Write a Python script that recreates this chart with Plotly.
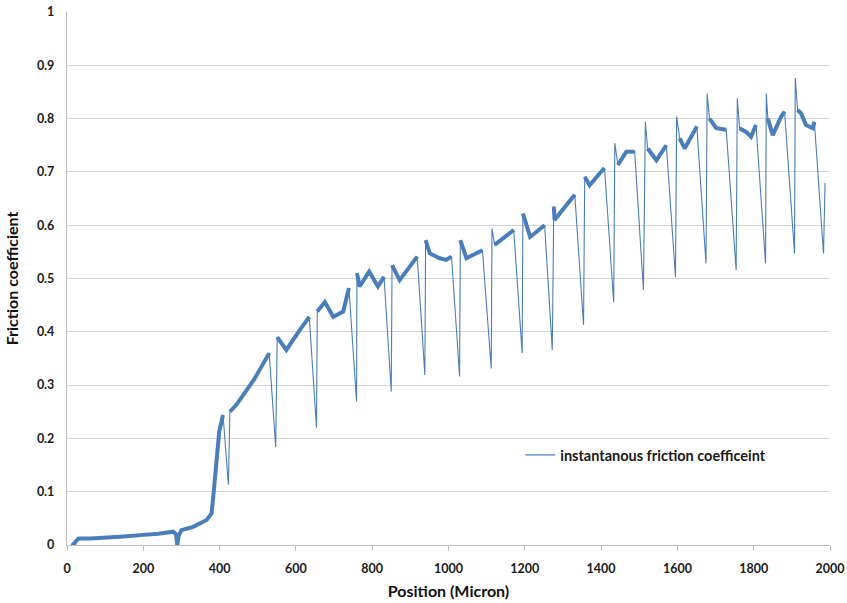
import plotly.graph_objects as go

# Sliding test: position along the track (micron) and instantaneous friction coefficient
position_um = [
    12, 18, 22, 30, 60, 90, 113, 150, 200, 240, 278, 286, 289, 293, 300, 331, 366, 379,
    385, 392, 399, 409, 423, 427, 444, 490, 530, 547, 551, 575, 610, 635, 654, 656,
    676, 698, 724, 739, 759, 760, 767, 792, 815, 831, 850, 852, 872, 918, 938, 940,
    951, 977, 994, 1008, 1029, 1031, 1047, 1089, 1112, 1114, 1121, 1171, 1193, 1195,
    1214, 1252, 1272, 1276, 1278, 1331, 1354, 1357, 1370, 1396, 1409, 1433, 1436,
    1444, 1466, 1488, 1511, 1516, 1522, 1545, 1571, 1595, 1598, 1606, 1619, 1651,
    1675, 1678, 1684, 1702, 1728, 1754, 1757, 1763, 1780, 1793, 1806, 1831, 1833,
    1837, 1850, 1872, 1881, 1907, 1909, 1915, 1924, 1937, 1955, 1959, 1983, 1987,
]
friction = [
    0.003, 0.0, 0.006, 0.012, 0.012, 0.013, 0.014, 0.016, 0.019, 0.021, 0.025, 0.02,
    0.0, 0.018, 0.028, 0.034, 0.047, 0.059, 0.103, 0.166, 0.213, 0.244, 0.113, 0.25,
    0.263, 0.31, 0.36, 0.184, 0.39, 0.366, 0.403, 0.428, 0.22, 0.438, 0.456, 0.428,
    0.438, 0.482, 0.269, 0.51, 0.485, 0.513, 0.485, 0.503, 0.288, 0.525, 0.497,
    0.541, 0.319, 0.572, 0.547, 0.538, 0.535, 0.541, 0.316, 0.572, 0.538, 0.553,
    0.331, 0.594, 0.563, 0.591, 0.36, 0.622, 0.578, 0.60, 0.366, 0.635, 0.61, 0.657,
    0.413, 0.691, 0.675, 0.697, 0.707, 0.455, 0.754, 0.713, 0.738, 0.738, 0.478,
    0.794, 0.744, 0.722, 0.75, 0.503, 0.804, 0.763, 0.744, 0.785, 0.528, 0.847, 0.80,
    0.782, 0.779, 0.516, 0.838, 0.782, 0.775, 0.766, 0.788, 0.528, 0.847, 0.80,
    0.769, 0.804, 0.813, 0.547, 0.876, 0.816, 0.81, 0.788, 0.782, 0.794, 0.547, 0.679,
]

x_ticks = [0, 200, 400, 600, 800, 1000, 1200, 1400, 1600, 1800, 2000]
y_ticks = [0, 0.1, 0.2, 0.3, 0.4, 0.5, 0.6, 0.7, 0.8, 0.9, 1]
y_tick_text = ["0", "0.1", "0.2", "0.3", "0.4", "0.5", "0.6", "0.7", "0.8", "0.9", "1"]

LINE = "#4A7EBB"
FONT = "Lato"


def is_slip(dx, dy):
    """Stick-slip release (sharp drop) or re-stick jump / spike: drawn as a thin stroke."""
    if dy < -0.05:
        return True
    if dx <= 8 and abs(dy) > 0.03 and (dy < 0 or dx <= 5):
        return True
    return False


# The noisy plateaus read as a broad band; the fast slip events are thin strokes.
band_x, band_y = [position_um[0]], [friction[0]]
for i in range(1, len(position_um)):
    dx = position_um[i] - position_um[i - 1]
    dy = friction[i] - friction[i - 1]
    if is_slip(dx, dy):
        band_x.append(None)
        band_y.append(None)
    band_x.append(position_um[i])
    band_y.append(friction[i])

fig = go.Figure()
fig.add_trace(go.Scatter(
    x=band_x, y=band_y, mode="lines", connectgaps=False,
    line=dict(color=LINE, width=4), showlegend=False, hoverinfo="skip",
))
fig.add_trace(go.Scatter(
    x=position_um, y=friction, mode="lines",
    line=dict(color=LINE, width=1.1),
    name="instantanous friction coefficeint",
))

fig.update_layout(
    width=847, height=603,
    margin=dict(l=67, r=17, t=12, b=58),
    paper_bgcolor="white", plot_bgcolor="white",
    font=dict(family=FONT, color="#1a1a1a"),
    legend=dict(
        x=0.594, y=0.169, xanchor="left", yanchor="middle",
        bgcolor="rgba(255,255,255,0)", itemwidth=30,
        font=dict(family=FONT, size=14.5, weight="bold", color="#1a1a1a"),
    ),
    xaxis=dict(
        range=[0, 2000], tickvals=x_ticks, showgrid=False, zeroline=False,
        automargin=False,
        showline=True, linecolor="#bdbdbd", linewidth=1.3,
        ticks="outside", ticklen=5, tickcolor="#bdbdbd", tickwidth=1.2,
        tickfont=dict(family=FONT, size=12.5, weight="bold", color="#1a1a1a"),
        ticklabelstandoff=7,
        title=dict(text="Position (Micron)", standoff=10,
                   font=dict(family=FONT, size=16, weight="bold", color="#111111")),
    ),
    yaxis=dict(
        range=[0, 1], tickvals=y_ticks, ticktext=y_tick_text,
        automargin=False,
        showgrid=True, gridcolor="#d3d3d3", gridwidth=1.3, zeroline=False,
        showline=True, linecolor="#bdbdbd", linewidth=1.3,
        ticks="", ticklabelstandoff=9,
        tickfont=dict(family=FONT, size=12.5, weight="bold", color="#1a1a1a"),
        title=dict(text="Friction coefficient", standoff=14,
                   font=dict(family=FONT, size=16, weight="bold", color="#111111")),
    ),
)

fig.write_html("out.html")
